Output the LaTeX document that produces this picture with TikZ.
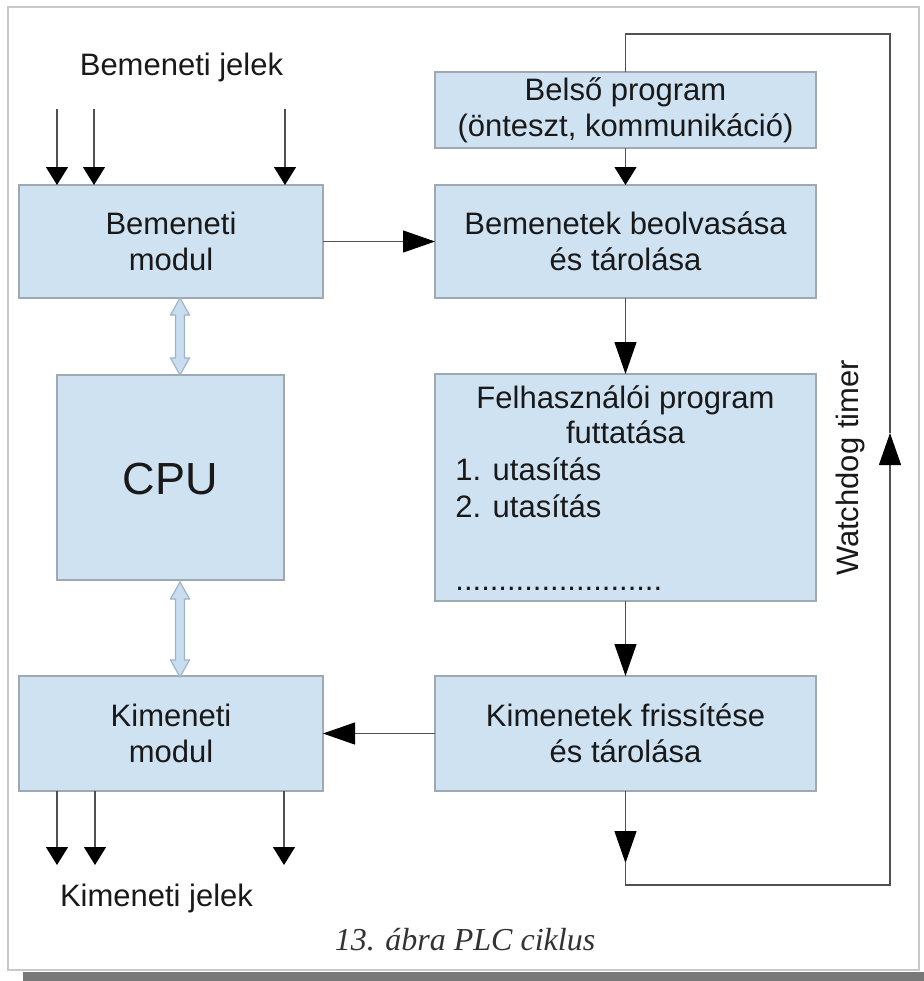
\documentclass[tikz,border=0pt]{standalone}
\usepackage{fontspec}
\setmainfont{Liberation Sans}
\newfontfamily\capfont{Liberation Serif}
\usetikzlibrary{arrows.meta}
\definecolor{boxfill}{RGB}{206,226,242}
\definecolor{boxline}{RGB}{160,168,178}
\definecolor{linec}{RGB}{80,80,80}
\definecolor{txt}{RGB}{25,25,25}
\definecolor{dafill}{RGB}{200,222,240}
\definecolor{daline}{RGB}{160,180,200}
\definecolor{framec}{RGB}{200,200,200}
\definecolor{shadowc}{RGB}{120,120,120}
\definecolor{capc}{RGB}{50,50,50}
\newcommand{\dblarr}[3]{% x, top y, bottom y
  \draw[draw=daline, fill=dafill, line width=0.6pt]
    (#1,#2) -- ++(9.5,17) -- ++(-5,0) -- (#1+4.5,#3-17) -- ++(5,0) -- (#1,#3)
    -- ++(-9.5,-17) -- ++(5,0) -- (#1-4.5,#2+17) -- ++(-5,0) -- cycle;}
\begin{document}
\begin{tikzpicture}[x=0.5pt,y=-0.5pt,
 box/.style={draw=boxline, line width=0.7pt, fill=boxfill, inner sep=0pt, outer sep=0pt, align=center, text=txt, font=\fontsize{15.5}{18}\selectfont},
 lbl/.style={text=txt, font=\fontsize{15.5}{18}\selectfont, inner sep=0pt},
 conn/.style={draw=linec, line width=0.6pt},
 longtip/.style={-{Triangle[length=16pt,width=11pt,color=black]}},
 shorttip/.style={-{Triangle[length=9pt,width=11pt,color=black]}}
]
\useasboundingbox (0,0) rectangle (924,981);
% frame and shadow
\fill[shadowc] (23,972) rectangle (924,981);
\draw[draw=framec, fill=white, line width=0.6pt] (8,7) rectangle (919,970);

% left column
\node[box, minimum width=152pt, minimum height=56.5pt] (bin) at (171,241.5) {Bemeneti\\modul};
\node[box, minimum width=113.5pt, minimum height=102.5pt] (cpu) at (170.5,477.5) {};
\node[lbl, font=\fontsize{22.5}{26}\selectfont] (cputxt) at (170.5,479) {CPU};
\node[box, minimum width=152pt, minimum height=57.5pt] (kout) at (171,733.5) {Kimeneti\\modul};

% right column
\node[box, minimum width=190.5pt, minimum height=38pt] (belso) at (625.5,110) {Belső program\\(önteszt, kommunikáció)};
\node[box, minimum width=190.5pt, minimum height=56.5pt] (read) at (625.5,241.5) {Bemenetek beolvasása\\és tárolása};
\node[box, minimum width=190.5pt, minimum height=113.5pt] (felh) at (625.5,487.5) {};
\node[box, minimum width=190.5pt, minimum height=57.5pt] (write) at (625.5,733.5) {Kimenetek frissítése\\és tárolása};

% texts inside user program box
\node[lbl, anchor=base] (f1) at (625.5,408) {Felhasználói program};
\node[lbl, anchor=base] (f2) at (625.5,443) {futtatása};
\node[lbl, anchor=base west] (f3) at (455,480) {1. utasítás};
\node[lbl, anchor=base west] (f4) at (455,517) {2. utasítás};
\node[lbl, anchor=base west] (f5) at (455,590) {........................};

% signal labels
\node[lbl, anchor=base] (injel) at (181.5,75) {Bemeneti jelek};
\node[lbl, anchor=base] (outjel) at (156.5,906) {Kimeneti jelek};
\node[lbl, rotate=90] (wd) at (850,468) {Watchdog timer};

% input signal arrows
\coordinate (i1) at (57,109);
\coordinate (i2) at (94,109);
\coordinate (i3) at (285,109);
\foreach \c in {i1,i2,i3} \draw[conn, shorttip] (\c) -- (\c |- bin.north);

% output signal arrows
\coordinate (o1) at (57,865);
\coordinate (o2) at (95,865);
\coordinate (o3) at (284,865);
\foreach \c in {o1,o2,o3} \draw[conn, shorttip] (\c |- kout.south) -- (\c);

% double arrows (bus connections)
\dblarr{180}{298}{375}
\dblarr{180}{582}{677}

% flow
\draw[conn, longtip] (bin.east) -- (read.west);
\draw[conn, shorttip] (belso.south) -- (read.north);
\draw[conn, longtip] (read.south) -- (felh.north);
\draw[conn, longtip] (felh.south) -- (write.north);
\draw[conn, longtip] (write.west) -- (kout.east);

% watchdog loop
\coordinate (lp1) at (625.5,863);
\coordinate (lp2) at (625.5,885);
\coordinate (lp3) at (890,885);
\coordinate (lp4) at (890,433);
\coordinate (lp5) at (890,34);
\coordinate (lp6) at (625.5,34);
\draw[conn, longtip] (write.south) -- (lp1);
\draw[conn, longtip] (lp1) -- (lp2) -- (lp3) -- (lp4);
\draw[conn] (lp4) -- (lp5) -- (lp6) -- (belso.north);

% caption
\node[font=\capfont\itshape\fontsize{16}{18}\selectfont, text=capc, anchor=base, inner sep=0pt] (cap) at (465,950) {13. ábra PLC ciklus};
\end{tikzpicture}
\end{document}
